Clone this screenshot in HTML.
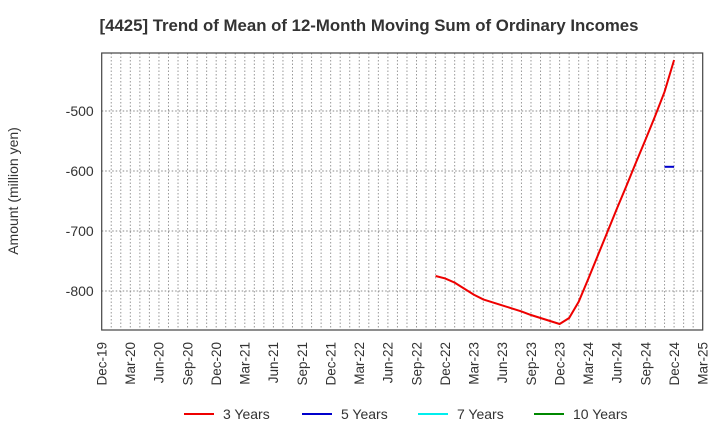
<!DOCTYPE html>
<html><head><meta charset="utf-8"><style>
body{margin:0;background:#fff;font-family:"Liberation Sans",Arial,sans-serif}
</style></head><body>
<svg id="c" width="720" height="440" xmlns="http://www.w3.org/2000/svg">
<text x="369" y="31" text-anchor="middle" font-size="16.8" font-weight="bold" fill="#333">[4425]  Trend of Mean of 12-Month Moving Sum of Ordinary Incomes</text>
<text transform="translate(18,191) rotate(-90)" text-anchor="middle" font-size="14" fill="#333">Amount (million yen)</text>
<g id="grid"></g><g id="series"></g><g id="axes"></g>
<g>
<line x1="184" y1="414" x2="214" y2="414" stroke="#e00" stroke-width="2"/><text x="223" y="419" font-size="14" fill="#333">3 Years</text>
<line x1="302" y1="414" x2="332" y2="414" stroke="#00c" stroke-width="2"/><text x="341" y="419" font-size="14" fill="#333">5 Years</text>
<line x1="418" y1="414" x2="448" y2="414" stroke="#0ee" stroke-width="2"/><text x="457" y="419" font-size="14" fill="#333">7 Years</text>
<line x1="534" y1="414" x2="564" y2="414" stroke="#080" stroke-width="2"/><text x="573" y="419" font-size="14" fill="#333">10 Years</text>
</g>
</svg>
<script>
const xLabels=["Dec-19","Mar-20","Jun-20","Sep-20","Dec-20","Mar-21","Jun-21","Sep-21","Dec-21","Mar-22","Jun-22","Sep-22","Dec-22","Mar-23","Jun-23","Sep-23","Dec-23","Mar-24","Jun-24","Sep-24","Dec-24","Mar-25"];
const yTicks=[-500,-600,-700,-800];
const start3=35; // month index of first 3-year point (Nov-22)
const values3=[-775,-779,-786,-796,-806,-814,-819,-824,-829,-834,-840,-845,-850,-855,-845,-818,-780,-741,-702,-663,-625,-586,-548,-509,-468,-415];
const start5=59;
const values5=[-593,-593];
const L=101.7,R=702.7,T=53,B=330,NM=63;
const xs=m=>L+(R-L)*m/NM;
const ys=v=>111+(v+500)*-0.6;
const NS="http://www.w3.org/2000/svg";
function mk(t,a,p){const e=document.createElementNS(NS,t);for(const k in a)e.setAttribute(k,a[k]);p.appendChild(e);return e;}
const g=document.getElementById('grid'),s=document.getElementById('series'),ax=document.getElementById('axes');
for(let m=1;m<NM;m++){const l=mk('line',{x1:xs(m),x2:xs(m),y1:T,y2:B,stroke:'#999','stroke-dasharray':'1.5,2','stroke-width':1},g);

}
yTicks.forEach(v=>{const l=mk('line',{x1:L,x2:R,y1:ys(v),y2:ys(v),stroke:'#888','stroke-dasharray':'1.5,2','stroke-width':1},g);


const t=mk('text',{x:L-8,y:ys(v)+5,'text-anchor':'end','font-size':14,fill:'#333'},ax);t.textContent=v;

});
xLabels.forEach((lb,i)=>{const x=xs(i*3);const t=mk('text',{transform:`translate(${x+4.8},342) rotate(-90)`,'text-anchor':'end','font-size':13.5,fill:'#333'},ax);t.textContent=lb;

});
const fr=mk('rect',{x:L,y:T,width:R-L,height:B-T,fill:'none',stroke:'#444','stroke-width':1.2},ax);


const p3=mk('polyline',{points:values3.map((v,i)=>xs(start3+i)+','+ys(v)).join(' '),fill:'none',stroke:'#e00','stroke-width':2},s);


const p5=mk('polyline',{points:values5.map((v,i)=>xs(start5+i)+','+ys(v)).join(' '),fill:'none',stroke:'#00c','stroke-width':2},s);


</script>
</body></html>
